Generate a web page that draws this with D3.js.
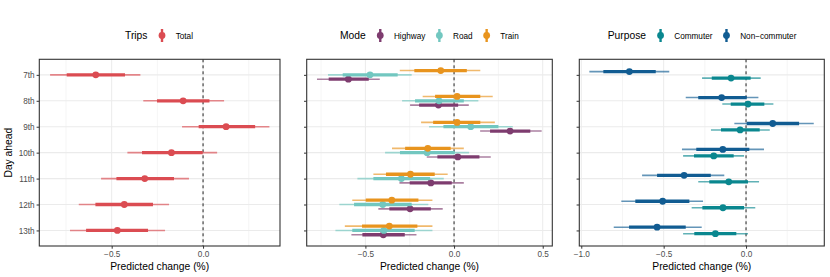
<!DOCTYPE html>
<html>
<head>
<meta charset="utf-8">
<script src="https://cdn.jsdelivr.net/npm/d3@7"></script>
<style>
  body { margin: 0; background: #fff; }
  svg { display: block; font-family: "Liberation Sans", Arial, sans-serif; }
</style>
</head>
<body>
<svg width="830" height="277"></svg>
<script>
// Forecast horizon
const days = ["7th", "8th", "9th", "10th", "11th", "12th", "13th"];

// Trips: point, inner interval, outer interval
const totalMid = [-0.587, -0.109, 0.126, -0.173, -0.319, -0.431, -0.469];
const totalInner = [[-0.746, -0.427], [-0.252, 0.035], [-0.024, 0.285], [-0.334, -0.002], [-0.474, -0.159], [-0.589, -0.274], [-0.640, -0.301]];
const totalOuter = [[-0.837, -0.343], [-0.327, 0.115], [-0.115, 0.363], [-0.414, 0.077], [-0.558, -0.077], [-0.680, -0.186], [-0.728, -0.208]];

// Mode
const highwayMid = [-0.596, -0.088, 0.316, 0.021, -0.131, -0.248, -0.399];
const highwayInner = [[-0.707, -0.481], [-0.197, 0.023], [0.203, 0.430], [-0.094, 0.143], [-0.250, -0.013], [-0.365, -0.131], [-0.517, -0.278]];
const highwayOuter = [[-0.773, -0.419], [-0.248, 0.083], [0.147, 0.494], [-0.154, 0.207], [-0.308, 0.055], [-0.427, -0.064], [-0.579, -0.212]];

const roadMid = [-0.474, -0.085, 0.094, -0.152, -0.297, -0.402, -0.396];
const roadInner = [[-0.628, -0.318], [-0.220, 0.055], [-0.060, 0.250], [-0.305, 0.004], [-0.455, -0.135], [-0.564, -0.239], [-0.574, -0.222]];
const roadOuter = [[-0.711, -0.239], [-0.293, 0.137], [-0.141, 0.331], [-0.389, 0.085], [-0.545, -0.058], [-0.647, -0.145], [-0.669, -0.122]];

const trainMid = [-0.075, 0.017, 0.017, -0.148, -0.246, -0.351, -0.365];
const trainInner = [[-0.224, 0.072], [-0.107, 0.148], [-0.118, 0.148], [-0.276, -0.019], [-0.384, -0.109], [-0.498, -0.201], [-0.519, -0.207]];
const trainOuter = [[-0.306, 0.148], [-0.177, 0.218], [-0.186, 0.230], [-0.350, 0.055], [-0.455, -0.036], [-0.574, -0.122], [-0.616, -0.122]];

// Purpose
const commuterMid = [-0.091, 0.012, -0.036, -0.196, -0.105, -0.140, -0.186];
const commuterInner = [[-0.208, 0.028], [-0.093, 0.111], [-0.152, 0.083], [-0.316, -0.075], [-0.223, 0.012], [-0.265, -0.012], [-0.314, -0.059]];
const commuterOuter = [[-0.267, 0.089], [-0.144, 0.166], [-0.213, 0.144], [-0.382, -0.012], [-0.290, 0.079], [-0.330, 0.056], [-0.382, 0.012]];

const nonCommuterMid = [-0.708, -0.148, 0.162, -0.141, -0.376, -0.506, -0.540];
const nonCommuterInner = [[-0.866, -0.548], [-0.290, 0.004], [0.004, 0.322], [-0.302, 0.020], [-0.540, -0.214], [-0.672, -0.344], [-0.710, -0.366]];
const nonCommuterOuter = [[-0.951, -0.466], [-0.366, 0.075], [-0.071, 0.411], [-0.389, 0.109], [-0.631, -0.132], [-0.757, -0.261], [-0.803, -0.269]];

const series = (name, color, dodge, mid, inner, outer) => ({
    name, color, dodge,
    rows: days.map((day, i) => ({ day, mid: mid[i], inner: inner[i], outer: outer[i] })),
});

const panels = [
    {
        title: "Trips", x0: 39.3, x1: 280, domain: [-0.896, 0.421],
        ticks: [-0.5, 0], minor: [-0.75, -0.25, 0.25], labels: true,
        legendX: 125,
        series: [series("Total", "#db4c52", 0, totalMid, totalInner, totalOuter)],
    },
    {
        title: "Mode", x0: 306.7, x1: 552.3, domain: [-0.831, 0.554],
        ticks: [-0.5, 0, 0.5], minor: [-0.75, -0.25, 0.25], labels: false,
        legendX: 340,
        series: [
            series("Highway", "#7e3c6f", 1 / 6, highwayMid, highwayInner, highwayOuter),
            series("Road", "#72c7c0", 0, roadMid, roadInner, roadOuter),
            series("Train", "#e8941e", -1 / 6, trainMid, trainInner, trainOuter),
        ],
    },
    {
        title: "Purpose", x0: 579.3, x1: 824.3, domain: [-1.012, 0.475],
        ticks: [-1, -0.5, 0], minor: [-0.75, -0.25, 0.25], labels: false,
        legendX: 607.7,
        series: [
            series("Commuter", "#0a878f", 0.125, commuterMid, commuterInner, commuterOuter),
            series("Non\u2212commuter", "#115c92", -0.125, nonCommuterMid, nonCommuterInner, nonCommuterOuter),
        ],
    },
];

const svg = d3.select("svg");
const plotTop = 59.3;
const plotBottom = 246;

const y = d3.scalePoint().domain(days).range([plotTop, plotBottom]).padding(0.6);
const step = y.step();
const fmt = v => (v === 0 ? "0.0" : d3.format(".1f")(v).replace("-", "\u2212"));

panels.forEach(p => {
    const x = d3.scaleLinear().domain(p.domain).range([p.x0, p.x1]);
    const g = svg.append("g");

    // grid
    g.selectAll(".minor").data(p.minor).join("line")
        .attr("x1", d => x(d)).attr("x2", d => x(d))
        .attr("y1", plotTop).attr("y2", plotBottom)
        .attr("stroke", "#ebebeb").attr("stroke-width", 0.5);
    g.selectAll(".major").data(p.ticks).join("line")
        .attr("x1", d => x(d)).attr("x2", d => x(d))
        .attr("y1", plotTop).attr("y2", plotBottom)
        .attr("stroke", "#ebebeb").attr("stroke-width", 1);
    g.selectAll(".hgrid").data(days).join("line")
        .attr("x1", p.x0).attr("x2", p.x1)
        .attr("y1", d => y(d)).attr("y2", d => y(d))
        .attr("stroke", "#ebebeb").attr("stroke-width", 1.1);

    // zero reference
    g.append("line")
        .attr("x1", x(0)).attr("x2", x(0))
        .attr("y1", plotTop).attr("y2", plotBottom)
        .attr("stroke", "#222").attr("stroke-width", 1)
        .attr("stroke-dasharray", "3,3");

    // intervals and points
    p.series.forEach(s => {
        const sg = g.append("g");
        const yy = d => y(d.day) + s.dodge * step;
        sg.selectAll(".outer").data(s.rows).join("line")
            .attr("x1", d => x(d.outer[0])).attr("x2", d => x(d.outer[1]))
            .attr("y1", yy).attr("y2", yy)
            .attr("stroke", s.color).attr("stroke-opacity", 0.65).attr("stroke-width", 1.6);
        sg.selectAll(".inner").data(s.rows).join("line")
            .attr("x1", d => x(d.inner[0])).attr("x2", d => x(d.inner[1]))
            .attr("y1", yy).attr("y2", yy)
            .attr("stroke", s.color).attr("stroke-width", 3.3);
        sg.selectAll("circle").data(s.rows).join("circle")
            .attr("cx", d => x(d.mid)).attr("cy", yy).attr("r", 3.4)
            .attr("fill", s.color);
    });

    // border
    g.append("rect")
        .attr("x", p.x0).attr("y", plotTop)
        .attr("width", p.x1 - p.x0).attr("height", plotBottom - plotTop)
        .attr("fill", "none").attr("stroke", "#333").attr("stroke-width", 1.1);

    // x axis
    const xa = g.append("g").attr("transform", `translate(0,${plotBottom})`)
        .call(d3.axisBottom(x).tickValues(p.ticks).tickSize(2.7).tickPadding(2).tickFormat(fmt));
    xa.select(".domain").remove();
    xa.selectAll("line").attr("stroke", "#333");
    xa.selectAll("text").attr("fill", "#4d4d4d").attr("font-size", 8.2)
        .attr("font-family", "Liberation Sans, Arial, sans-serif");

    // y axis
    const ya = g.append("g").attr("transform", `translate(${p.x0},0)`)
        .call(d3.axisLeft(y).tickSize(2.7).tickPadding(2).tickFormat(p.labels ? d => d : () => ""));
    ya.select(".domain").remove();
    ya.selectAll("line").attr("stroke", "#333");
    ya.selectAll("text").attr("fill", "#4d4d4d").attr("font-size", 8.2)
        .attr("font-family", "Liberation Sans, Arial, sans-serif");

    // x title
    g.append("text")
        .attr("x", (p.x0 + p.x1) / 2).attr("y", 270)
        .attr("text-anchor", "middle").attr("font-size", 10.3).attr("fill", "#000")
        .text("Predicted change (%)");

    // legend
    const lg = g.append("g").attr("transform", "translate(0,35.5)");
    const title = lg.append("text")
        .attr("x", p.legendX).attr("y", 3.7)
        .attr("font-size", 10.3).attr("fill", "#000").text(p.title);
    let cx = p.legendX + title.node().getComputedTextLength() + 14.5;
    p.series.forEach(s => {
        lg.append("line")
            .attr("x1", cx).attr("x2", cx).attr("y1", -6.5).attr("y2", 6.5)
            .attr("stroke", s.color).attr("stroke-width", 2.4);
        lg.append("circle").attr("cx", cx).attr("cy", 0).attr("r", 3.4).attr("fill", s.color);
        const t = lg.append("text")
            .attr("x", cx + 13.7).attr("y", 3)
            .attr("font-size", 8.2).attr("fill", "#000").text(s.name);
        cx += 13.7 + t.node().getComputedTextLength() + 14;
    });
});

// y title
svg.append("text")
    .attr("transform", `translate(11.5,${(plotTop + plotBottom) / 2}) rotate(-90)`)
    .attr("text-anchor", "middle").attr("font-size", 10.3).attr("fill", "#000")
    .text("Day ahead");
</script>
</body>
</html>
